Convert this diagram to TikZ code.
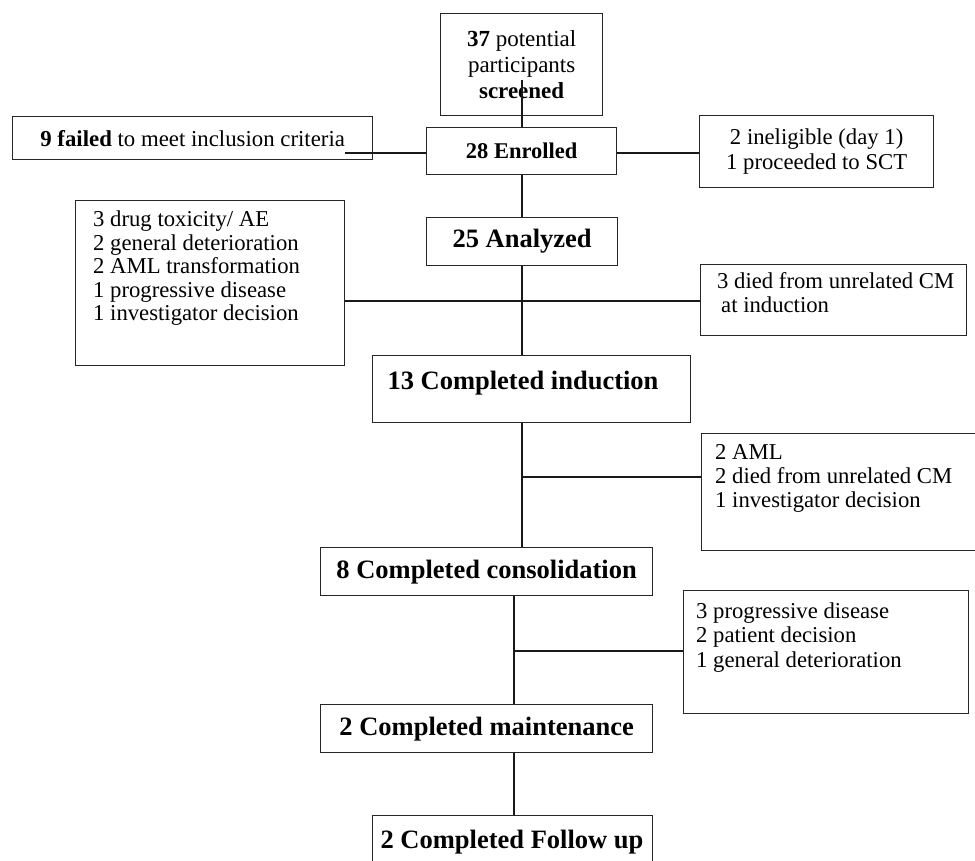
\documentclass[tikz,border=0pt]{standalone}
\usepackage{fontspec}
\setmainfont{Liberation Serif}
\newcommand\myfs[2]{\fontsize{#1}{#2}\selectfont}
\begin{document}
\begin{tikzpicture}[x=1pt,y=-1pt,
  box/.style={draw=black!85, line width=1.3pt, rectangle, inner sep=0pt, anchor=north west, font=\myfs{22.8}{26}},
  headbox/.style={box, font=\myfs{26.5}{30}\bfseries},
  txt/.style={inner sep=0pt, align=left, anchor=north west},
  conn/.style={draw=black!90, line width=1.2pt}]
\clip (0,0) rectangle (975,860);
% boxes
\node[box, minimum width=162, minimum height=102, align=center, font=\myfs{23}{26}] (screen) at (440,13)
  {\textbf{37} potential\\participants\\\textbf{screened}};
\node[box, minimum width=190, minimum height=47, font=\myfs{22.5}{26}\bfseries] (enrolled) at (426,127) {28 Enrolled};
\node[box, minimum width=360, minimum height=43] (fail) at (12,116) {\textbf{9 failed} to meet inclusion criteria};
\node[box, minimum width=234, minimum height=72, align=center, font=\myfs{22.7}{25}] (inelig) at (699,115)
  {2 ineligible (day 1)\\1 proceeded to SCT};
\node[headbox, minimum width=191, minimum height=48] (analyzed) at (426,217) {25 Analyzed};
\node[box, minimum width=269, minimum height=165] (leftbox) at (75,200) {};
\node[txt, font=\myfs{22.7}{23.5}] (lefttxt) at (93,210)
  {\strut 3 drug toxicity/ AE\\2 general deterioration\\2 AML transformation\\1 progressive disease\\1 investigator decision};
\node[box, minimum width=266, minimum height=71] (died) at (700,264) {};
\node[txt, font=\myfs{22.7}{24}] (diedtxt) at (717,271)
  {\strut 3 died from unrelated CM\\\hspace{4pt}at induction};
\node[box, minimum width=318, minimum height=67] (induction) at (372,355) {};
\node[inner sep=0pt, anchor=base, font=\myfs{26.5}{30}\bfseries] (inductxt) at (523,389) {13 Completed induction};
\node[box, minimum width=320, minimum height=117] (aml) at (701,433) {};
\node[txt, font=\myfs{22.7}{24}] (amltxt) at (715,442)
  {\strut 2 AML\\2 died from unrelated CM\\1 investigator decision};
\node[headbox, minimum width=332, minimum height=48] (consol) at (320,547) {8 Completed consolidation};
\node[box, minimum width=285, minimum height=123] (prog) at (683,590) {};
\node[txt, font=\myfs{22.7}{24.5}] (progtxt) at (696,601)
  {\strut 3 progressive disease\\2 patient decision\\1 general deterioration};
\node[headbox, minimum width=332, minimum height=48] (maint) at (320,704) {2 Completed maintenance};
\node[box, minimum width=280, minimum height=90] (follow) at (372,815) {};
\node[inner sep=0pt, anchor=base, font=\myfs{26.5}{30}\bfseries] (followtxt) at (512,848) {2 Completed Follow up};
% connectors
\coordinate (s1) at (522,80);
\coordinate (s2) at (514,600);
\coordinate (f1) at (345,153);
\coordinate (j1) at (522,301);
\coordinate (j2) at (522,477);
\coordinate (j3) at (514,651);
\draw[conn] (s1) -- (s1 |- enrolled.north);
\draw[conn] (f1) -- (f1 -| enrolled.west);
\draw[conn] (f1 -| enrolled.east) -- (f1 -| inelig.west);
\draw[conn] (s1 |- enrolled.south) -- (s1 |- analyzed.north);
\draw[conn] (s1 |- analyzed.south) -- (s1 |- induction.north);
\draw[conn] (j1 -| leftbox.east) -- (j1 -| died.west);
\draw[conn] (s1 |- induction.south) -- (s1 |- consol.north);
\draw[conn] (j2) -- (j2 -| aml.west);
\draw[conn] (s2 |- consol.south) -- (s2 |- maint.north);
\draw[conn] (j3) -- (j3 -| prog.west);
\draw[conn] (s2 |- maint.south) -- (s2 |- follow.north);
\end{tikzpicture}
\end{document}
